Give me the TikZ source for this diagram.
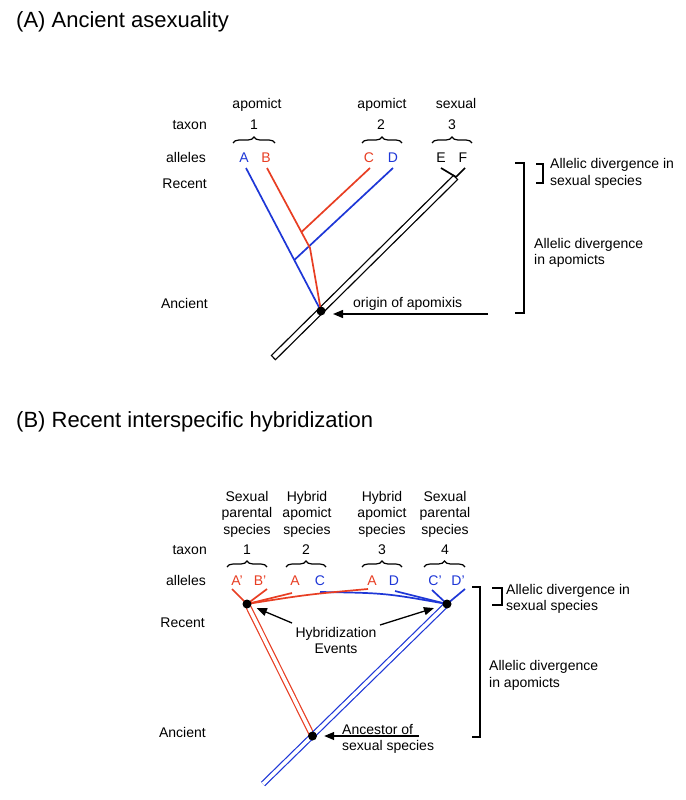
\documentclass[tikz,border=0pt]{standalone}
\usepackage{fontspec}
\setmainfont{Liberation Sans}
\usetikzlibrary{arrows.meta,decorations.pathreplacing,calc}
\definecolor{myred}{RGB}{232,62,35}
\definecolor{myblue}{RGB}{30,55,215}
\begin{document}
\begin{tikzpicture}[x=1pt,y=-1pt,
  lbl/.style={font=\fontsize{14}{16.5}\selectfont, inner sep=0pt, align=center},
  lbll/.style={font=\fontsize{14}{16.5}\selectfont, inner sep=0pt, align=left, anchor=west},
  ttl/.style={font=\fontsize{22}{25}\selectfont, inner sep=0pt, anchor=west},
  brc/.style={decorate, decoration={brace, amplitude=6pt}, line width=1.2pt},
  rl/.style={myred, line width=1.7pt},
  bl/.style={myblue, line width=1.7pt},
  kl/.style={black, line width=1.7pt},
  dotn/.style={circle, fill=black, inner sep=0pt, minimum size=9pt},
  arr/.style={-{Triangle[length=10pt,width=8pt]}, line width=1.3pt},
  bkt/.style={line width=1.3pt},
  dred/.style={draw=myred, line width=1.2pt, double=white, double distance=3.6pt},
  dblue/.style={draw=myblue, line width=1.2pt, double=white, double distance=3.6pt}
]
\useasboundingbox[fill=white] (0,0) rectangle (685,800);

% ================= Part A =================
\node[ttl] (titleA) at (16,22) {(A) Ancient asexuality};

\node[lbl, anchor=base] (apo1) at (257,108) {apomict};
\node[lbl, anchor=base] (apo2) at (382,108) {apomict};
\node[lbl, anchor=base] (sex3) at (456,108) {sexual};

\node[lbl, anchor=base east] (taxA) at (207,129) {taxon};
\node[lbl, anchor=base] (tA1) at (254,129) {1};
\node[lbl, anchor=base] (tA2) at (381,129) {2};
\node[lbl, anchor=base] (tA3) at (452,129) {3};

\draw[brc] (233,143) -- (275,143);
\draw[brc] (362,143) -- (402,143);
\draw[brc] (432,143) -- (472,143);

\node[lbl, anchor=base east] (allA) at (206,162) {alleles};
\node[lbl, anchor=base, myblue] (aA) at (244,162) {A};
\node[lbl, anchor=base, myred] (aB) at (266,162) {B};
\node[lbl, anchor=base, myred] (aC) at (369,162) {C};
\node[lbl, anchor=base, myblue] (aD) at (393,162) {D};
\node[lbl, anchor=base] (aE) at (441,162) {E};
\node[lbl, anchor=base] (aF) at (463,162) {F};

\node[lbl, anchor=base east] (recA) at (207,188) {Recent};
\node[lbl, anchor=base east] (ancA) at (208,308) {Ancient};

\coordinate (aAs) at (246,168);
\coordinate (aBs) at (267,168);
\coordinate (aCs) at (370,168);
\coordinate (aDs) at (393,168);
\coordinate (aEs) at (441,168);
\coordinate (aFs) at (465,168);
\coordinate (jB) at (310,248);
\coordinate (jC) at (301.5,232);
\coordinate (jD) at (294.3,260);
\coordinate (barTop) at (456,177);
\coordinate (barBot) at (273,358);
\coordinate (oAc) at (321,311);

% hollow bar
\draw[line width=7pt] (barBot) -- (barTop);
\draw[line width=4.4pt, white, shorten <=1.3pt, shorten >=1.3pt] (barBot) -- (barTop);

\draw[kl] (aEs) -- (barTop);
\draw[kl] (aFs) -- (barTop);

\draw[bl] (aAs) -- (oAc);
\draw[bl] (aDs) -- (jD);
\draw[rl] (aBs) -- (jB) -- (oAc);
\draw[rl] (aCs) -- (jC);

\node[dotn] (oA) at (oAc) {};

\coordinate (arrAs) at (488,314);
\draw[arr, shorten >=12pt] (arrAs) -- (arrAs -| oA);
\node[lbl, anchor=base west] (origin) at (353,307) {origin of apomixis};

% brackets A
\coordinate (bkA1) at (515,163);
\coordinate (bkA2) at (515,313);
\draw[bkt] (bkA1) -- ++(9,0) |- (bkA2);
\coordinate (bkA3) at (536,164);
\coordinate (bkA4) at (536,183);
\draw[bkt] (bkA3) -- ++(7,0) |- (bkA4);
\node[lbll] (divSA) at (550,173.5) {Allelic divergence in\\sexual species};
\node[lbll] (divAA) at (534,253) {Allelic divergence\\in apomicts};

% ================= Part B =================
\node[ttl] (titleB) at (16,422) {(B) Recent interspecific hybridization};

\node[lbl] (hB1) at (247,514) {Sexual\\parental\\species};
\node[lbl] (hB2) at (307,514) {Hybrid\\apomict\\species};
\node[lbl] (hB3) at (382,514) {Hybrid\\apomict\\species};
\node[lbl] (hB4) at (445,514) {Sexual\\parental\\species};

\node[lbl, anchor=base east] (taxB) at (207,554) {taxon};
\node[lbl, anchor=base] (tB1) at (247,554) {1};
\node[lbl, anchor=base] (tB2) at (306,554) {2};
\node[lbl, anchor=base] (tB3) at (382,554) {3};
\node[lbl, anchor=base] (tB4) at (445,554) {4};

\draw[brc] (227,567) -- (267,567);
\draw[brc] (286,567) -- (326,567);
\draw[brc] (362,567) -- (402,567);
\draw[brc] (424,567) -- (465,567);

\node[lbl, anchor=base east] (allB) at (206,585) {alleles};
\node[lbl, anchor=base, myred] (bA1) at (237,585) {A'};
\node[lbl, anchor=base, myred] (bB1) at (260,585) {B'};
\node[lbl, anchor=base, myred] (bA2) at (295,585) {A};
\node[lbl, anchor=base, myblue] (bC2) at (320,585) {C};
\node[lbl, anchor=base, myred] (bA3) at (372,585) {A};
\node[lbl, anchor=base, myblue] (bD3) at (394,585) {D};
\node[lbl, anchor=base, myblue] (bC4) at (435,585) {C'};
\node[lbl, anchor=base, myblue] (bD4) at (458,585) {D'};

\node[lbl, anchor=base east] (recB) at (205,627) {Recent};
\node[lbl, anchor=base east] (ancB) at (206,737) {Ancient};

\coordinate (Lc) at (247,604);
\coordinate (Rc) at (447,604);
\coordinate (Lowc) at (312.5,736);
\coordinate (bEnd) at (263,784);

\coordinate (sA1) at (232,589);
\coordinate (sB1) at (267,589);
\coordinate (sA2) at (292,593);
\coordinate (sC2) at (320,592);
\coordinate (sA3) at (368,589);
\coordinate (sD3) at (395,591);
\coordinate (sC4) at (432,590);
\coordinate (sD4) at (465,589);

\draw[dred] (Lc) -- (Lowc);
\draw[dblue] (Rc) -- (bEnd);

\draw[rl] (sA1) -- (Lc);
\draw[rl] (sB1) -- (Lc);
\draw[rl] (sA2) -- (Lc);
\draw[bl] (sC2) .. controls (385,593) .. (Rc);
\draw[rl] (sA3) .. controls (307,594.5) .. (Lc);
\draw[bl] (sD3) -- (Rc);
\draw[bl] (sC4) -- (Rc);
\draw[bl] (sD4) -- (Rc);

\node[dotn] (L) at (Lc) {};
\node[dotn] (R) at (Rc) {};
\node[dotn] (Low) at (Lowc) {};

\node[lbl] (hyb) at (336,640.5) {Hybridization\\Events};
\coordinate (hybL) at (292,623);
\coordinate (hybR) at (380,625);
\draw[arr, shorten >=6pt] (hybL) -- (L);
\draw[arr, shorten >=9pt] (hybR) -- (R);

\coordinate (ancS) at (419,736);
\draw[arr, shorten >=7pt] (ancS) -- (Low);
\node[lbll] (ancT) at (342,739) {Ancestor of\\sexual species};

% brackets B
\coordinate (bkB1) at (472,587);
\coordinate (bkB2) at (472,737);
\draw[bkt] (bkB1) -- ++(8,0) |- (bkB2);
\coordinate (bkB3) at (492,588);
\coordinate (bkB4) at (492,605);
\draw[bkt] (bkB3) -- ++(10,0) |- (bkB4);
\node[lbll] (divSB) at (506,599) {Allelic divergence in\\sexual species};
\node[lbll] (divAB) at (489,675.5) {Allelic divergence\\in apomicts};
\end{tikzpicture}
\end{document}
